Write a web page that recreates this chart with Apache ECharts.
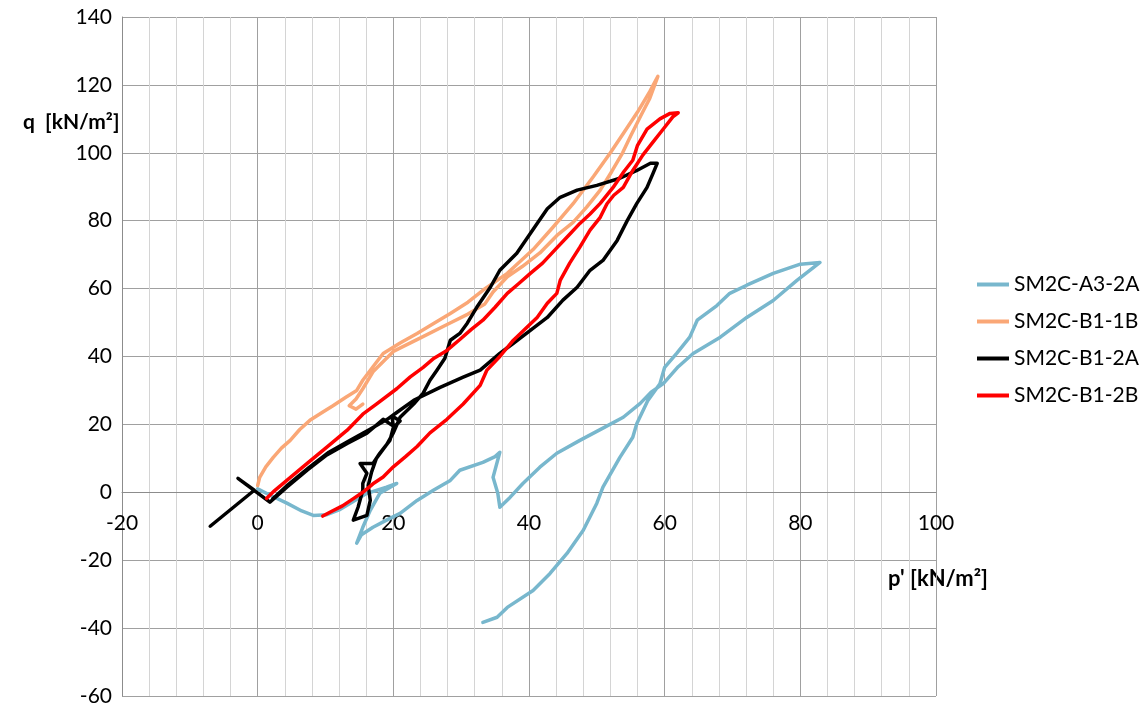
<!DOCTYPE html>
<html>
<head>
<meta charset="utf-8">
<script src="https://cdn.jsdelivr.net/npm/echarts@6/dist/echarts.min.js"></script>
<style>
  html, body { margin: 0; padding: 0; background: #ffffff; }
  #chart { width: 1147px; height: 707px; }
</style>
</head>
<body>
<div id="chart"></div>
<script>
// Stress paths: mean effective stress p' against deviator stress q, both in kN/m²
const seriesNames = ['SM2C-A3-2A', 'SM2C-B1-1B', 'SM2C-B1-2A', 'SM2C-B1-2B'];
const seriesColors = ['#78B7CD', '#FAA776', '#000000', '#FF0000'];

const pA3_2A = [0, 2, 4.3, 6.5, 8.2, 10.2, 12, 13.6, 16.1, 19, 20.5, 18, 16.6, 15.5, 14.6, 15.3, 17, 19, 21, 23.5, 25.9, 28.4, 29.8, 33.2, 35, 35.7, 34.7, 35.4, 35.7, 37.2, 39.1, 41.6, 44.1, 47.5, 50.9, 53.9, 56.4, 58, 59.8, 62, 64.2, 68.2, 72.1, 76, 79.5, 82.9, 80, 76, 72.1, 69.6, 67.7, 64.8, 63.7, 61.8, 60, 59.3, 57.5, 55.9, 55.3, 53.4, 50.9, 50, 48, 45.6, 43.1, 40.6, 36.8, 35.3, 33.2];
const qA3_2A = [1, -1, -3.2, -5.5, -6.8, -6.6, -5.2, -3.3, -0.3, 1.5, 2.6, -0.3, -5.3, -10.3, -15, -12.5, -10.3, -8.2, -6.2, -2.4, 0.6, 3.5, 6.5, 8.8, 10.5, 11.8, 4.4, -0.3, -4.4, -1.5, 2.6, 7.4, 11.5, 15.3, 18.9, 22.1, 26.2, 29.5, 32, 37, 40.9, 45.7, 51.5, 56.5, 62.4, 67.7, 67.2, 64.5, 61, 58.6, 55, 50.7, 45.7, 41, 36.8, 32, 27, 20.3, 16.2, 10.3, 1.5, -3.2, -11.2, -18, -23.9, -28.9, -33.9, -36.8, -38.3];

const pB1_1B = [0, 0.3, 1.2, 2.3, 3.5, 4.8, 6.2, 7.7, 9.5, 11.1, 13, 14.6, 15.5, 17, 18.5, 21, 23.5, 26, 28.4, 31, 33.2, 36.8, 40.6, 43.5, 46.5, 49.5, 52, 54, 56, 57.8, 59, 57.8, 56.5, 55, 53.8, 52.2, 50.5, 48.5, 46.5, 44.3, 41.6, 39, 36.8, 34.7, 33.5, 31, 28, 24, 20, 17, 15.5, 14.5, 13.5, 14.5, 15.5];
const qB1_1B = [2, 4.4, 7.5, 10.3, 13, 15.3, 18.5, 21.2, 23.5, 25.5, 28, 30, 33, 37, 40.9, 44, 46.8, 49.8, 52.7, 56, 59.5, 64.5, 71.5, 78, 85, 93, 100, 106, 112, 118, 122.5, 116, 111, 105, 100, 94.5, 89, 84, 79.5, 76, 70.5, 66.5, 63.5, 59, 55.5, 52.5, 49.5, 45.5, 41.5, 35.5, 30.5, 27.5, 25.5, 24.5, 26];

const pB1_2A = [-7, -0.5, -2.9, 1.8, 4.3, 7.3, 10.2, 13.2, 16.1, 18.5, 20, 19.8, 21, 20, 19.5, 18, 17, 15.1, 16.1, 15.5, 15.5, 14.8, 14.1, 16.1, 16.6, 16.3, 16.8, 17.5, 19, 20, 21, 23, 24.4, 25.4, 26.4, 27.6, 28.4, 29.8, 30.9, 32.3, 34.3, 35.7, 38.2, 41.2, 42.7, 44.6, 47.1, 50, 53.4, 55.9, 57.9, 58.9, 58.3, 57.4, 55.9, 54.5, 53, 50.9, 49, 47.1, 45, 42.7, 40.2, 37.7, 35.7, 32.8, 30.3, 26.9, 23, 20.5, 19.1, 16.5, 13.5, 10.5, 7.5, 4.5, 2.2];
const qB1_2A = [-10, 0.6, 4.1, -2.9, 1.5, 6.5, 11, 14.4, 17.4, 21.5, 19.5, 22.5, 21, 19.1, 15.3, 11.5, 8.5, 8.5, 5.6, 2.6, 0.6, -4.4, -8.2, -6.8, -2.4, 2, 6, 10, 14, 17.5, 22.1, 26, 29.2, 33, 35.9, 39.5, 44.8, 46.8, 49.8, 54.5, 60.4, 65.4, 70.4, 79.2, 83.5, 86.9, 89, 90.4, 92.5, 94.8, 96.9, 96.9, 94, 89.8, 85.1, 80.1, 74.2, 68.3, 65.4, 60.4, 56.6, 51.5, 47.7, 43.9, 40.9, 36, 33.9, 30.9, 27.1, 23.5, 21.5, 18.5, 15.2, 11.8, 7.2, 2.3, -2];

const pB1_2B = [1.3, 2.5, 4.3, 7.3, 10.2, 13.2, 15.5, 17.5, 20.5, 22.5, 24.4, 26, 27.9, 29.8, 31.5, 33.2, 35, 36.8, 38.5, 40.2, 42, 44.1, 46, 47.5, 49, 50.5, 52.4, 54, 55.3, 56, 57.4, 59.3, 60.8, 62, 61.2, 59.8, 58.3, 56.8, 55.3, 53.9, 52.5, 51.5, 50.5, 49, 47.5, 46, 44.6, 44.1, 42.7, 41.2, 39.7, 37.7, 35.7, 33.8, 32.8, 30.3, 27.9, 25.4, 23.5, 21.8, 20, 18.5, 17, 15.5, 14, 12.5, 11, 9.6];
const qB1_2B = [-1.8, 0.5, 3.5, 8.5, 13.3, 18.3, 23, 26, 30.5, 34, 36.8, 39.5, 41.8, 45, 48, 50.7, 54.5, 58.6, 61.5, 64.5, 67.5, 72, 76, 79.2, 82, 85.1, 89.8, 94.5, 97.8, 102.2, 107, 110, 111.6, 111.8, 110.6, 107, 103.2, 99.4, 94.8, 89.8, 87.5, 85, 81, 77.2, 72.2, 67.5, 62.4, 58.6, 55.7, 51.5, 48.6, 44.8, 40, 36, 31.5, 26, 21.5, 17.5, 13.5, 10.5, 7.5, 4.5, 2.5, 0, -2, -4, -5.5, -7];

const pValues = [pA3_2A, pB1_1B, pB1_2A, pB1_2B];
const qValues = [qA3_2A, qB1_1B, qB1_2A, qB1_2B];

const xTickMin = -20, xTickMax = 100, xTickStep = 20;
const yTickMin = -60, yTickMax = 140, yTickStep = 20;

const yAxisTitle = 'q  [kN/m²]';
const xAxisTitle = "p' [kN/m²]";

const fontFamily = 'Lato, "Open Sans", sans-serif';

// plot frame, in pixels
const gridLeft = 122, gridRight = 211, gridTop = 17, gridBottom = 11;
const plotHeight = 707 - gridTop - gridBottom;
// shift the horizontal axis up so it crosses the vertical one at q = 0
const xAxisOffset = -plotHeight * (0 - yTickMin) / (yTickMax - yTickMin);

function pairs(ps, qs) {
  return ps.map(function (p, i) { return [p, qs[i]]; });
}

const chart = echarts.init(document.getElementById('chart'), null, { renderer: 'canvas' });

chart.setOption({
  animation: false,
  backgroundColor: '#ffffff',
  grid: { left: gridLeft, right: gridRight, top: gridTop, bottom: gridBottom, containLabel: false },
  xAxis: {
    type: 'value',
    position: 'bottom',
    offset: xAxisOffset,
    min: xTickMin,
    max: xTickMax,
    interval: xTickStep,
    axisLine: { show: true, onZero: false, lineStyle: { color: '#8C8C8C', width: 1 } },
    axisTick: { show: false },
    axisLabel: { color: '#000', fontSize: 21, fontFamily: fontFamily, margin: 20, showMinLabel: true, showMaxLabel: true },
    splitLine: { show: true, lineStyle: { color: '#A0A0A0', width: 1 } },
    minorTick: { show: false, splitNumber: 5 },
    minorSplitLine: { show: true, lineStyle: { color: '#D4D4D4', width: 1 } }
  },
  yAxis: {
    type: 'value',
    min: yTickMin,
    max: yTickMax,
    interval: yTickStep,
    axisLine: { show: true, onZero: false, lineStyle: { color: '#8C8C8C', width: 1 } },
    axisTick: { show: false },
    axisLabel: { color: '#000', fontSize: 21, fontFamily: fontFamily, margin: 10, showMinLabel: true, showMaxLabel: true },
    splitLine: { show: true, lineStyle: { color: '#A0A0A0', width: 1 } }
  },
  legend: {
    orient: 'vertical',
    left: 972,
    top: 269,
    icon: 'rect',
    itemWidth: 32,
    itemHeight: 4,
    itemGap: 16,
    textStyle: { color: '#000', fontSize: 21, fontFamily: fontFamily },
    data: seriesNames.map(function (n) { return { name: n }; })
  },
  graphic: [
    {
      type: 'text', left: 23, top: 112,
      style: { text: yAxisTitle, fontSize: 21, fontWeight: 'bold', fontFamily: fontFamily, fill: '#000' }
    },
    {
      type: 'text', left: 888, top: 568,
      style: { text: xAxisTitle, fontSize: 22, fontWeight: 'bold', fontFamily: fontFamily, fill: '#000' }
    }
  ],
  series: seriesNames.map(function (name, i) {
    return {
      name: name,
      type: 'line',
      data: pairs(pValues[i], qValues[i]),
      showSymbol: false,
      symbol: 'none',
      smooth: false,
      color: seriesColors[i],
      lineStyle: { color: seriesColors[i], width: 3.5, join: 'round', cap: 'round' }
    };
  })
});
</script>
</body>
</html>
